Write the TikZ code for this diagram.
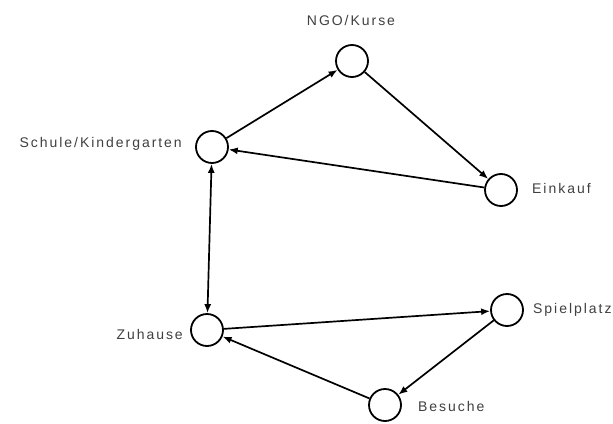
\documentclass[tikz,border=0pt]{standalone}
\usepackage{fontspec}
\setmainfont{Liberation Sans}[LetterSpace=14]
\usetikzlibrary{arrows.meta}
\begin{document}
\begin{tikzpicture}[x=1pt,y=-1pt,
  state/.style={circle,draw,line width=1.8pt,minimum size=32pt,inner sep=0pt},
  lbl/.style={font=\fontsize{14}{16}\selectfont,text=black!75,inner sep=0pt},
  conn/.style={line width=1.7pt,-{Latex[length=9pt,width=7pt]}},
  bconn/.style={line width=1.7pt,{Latex[length=9pt,width=7pt]}-{Latex[length=9pt,width=7pt]}}]
\path[use as bounding box, fill=white] (0,0) rectangle (613,423);
\node[state] (ngo) at (352,61) {};
\node[state] (schule) at (212,147) {};
\node[state] (einkauf) at (501,190) {};
\node[state] (zuhause) at (207,330) {};
\node[state] (spiel) at (507,310) {};
\node[state] (besuche) at (385,405) {};
\node[lbl,anchor=mid] (lngo) at (351,23) {NGO/Kurse};
\node[lbl,anchor=mid east] (lschule) at (182,145) {Schule/Kindergarten};
\node[lbl,anchor=mid west] (leinkauf) at (532,191) {Einkauf};
\node[lbl,anchor=mid west] (lspiel) at (533,311) {Spielplatz};
\node[lbl,anchor=mid west] (lbesuche) at (418,409) {Besuche};
\node[lbl,anchor=mid east] (lzuhause) at (183,337) {Zuhause};
\draw[conn] (schule) -- (ngo);
\draw[conn] (ngo) -- (einkauf);
\draw[conn] (einkauf) -- (schule);
\draw[bconn] (schule) -- (zuhause);
\draw[conn] (zuhause) -- (spiel);
\draw[conn] (spiel) -- (besuche);
\draw[conn] (besuche) -- (zuhause);
\end{tikzpicture}
\end{document}
